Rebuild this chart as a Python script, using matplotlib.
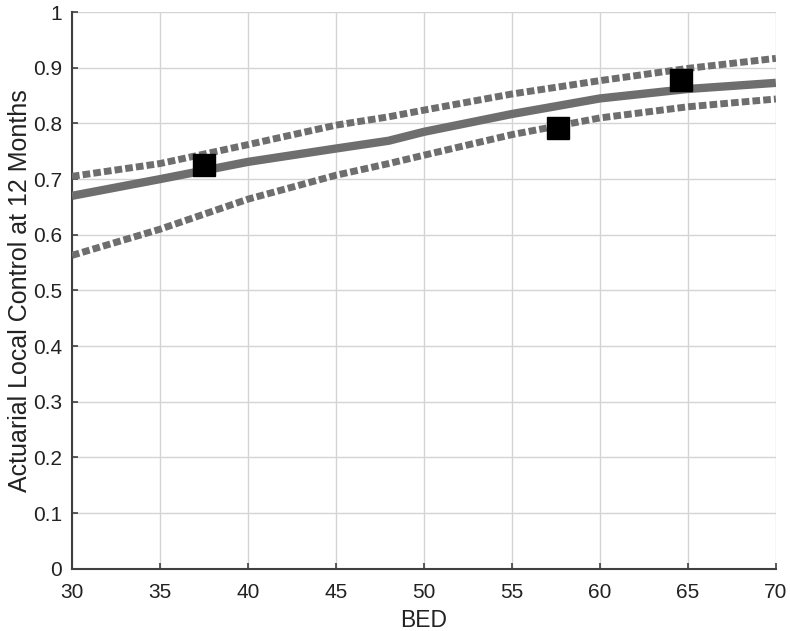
import matplotlib
matplotlib.use("Agg")
import matplotlib.pyplot as plt

plt.rcParams["font.family"] = ["Liberation Sans", "DejaVu Sans"]

# BED values on the fitted curve and confidence bands
bed = [30, 35, 40, 45, 48, 50, 55, 60, 65, 70]
fit = [0.670, 0.700, 0.731, 0.755, 0.769, 0.785, 0.817, 0.845, 0.862, 0.873]
upper = [0.705, 0.728, 0.762, 0.797, 0.812, 0.824, 0.853, 0.877, 0.899, 0.917]
lower = [0.563, 0.610, 0.664, 0.707, 0.728, 0.743, 0.780, 0.810, 0.830, 0.844]

# observed points
obs_bed = [37.5, 57.6, 64.6]
obs_lc = [0.725, 0.791, 0.878]

fig = plt.figure(figsize=(7.9, 6.31), dpi=100)
ax = fig.add_axes([0.0911, 0.0987, 0.891, 0.882])

gray = "#6e6e6e"
ax.plot(bed, fit, color=gray, lw=6.0, solid_capstyle="butt", zorder=3)
ax.plot(bed, upper, color=gray, lw=5.0, linestyle=(0, (1.1, 0.45)),
        dash_capstyle="butt", zorder=3)
ax.plot(bed, lower, color=gray, lw=5.0, linestyle=(0, (1.1, 0.45)),
        dash_capstyle="butt", zorder=3)
ax.plot(obs_bed, obs_lc, linestyle="none", marker="s", markersize=16,
        color="black", zorder=4)

ax.set_xlim(30, 70)
ax.set_ylim(0, 1)
ax.set_xticks(range(30, 71, 5))
ax.set_yticks([i / 10 for i in range(11)])
ax.set_yticklabels(["0", "0.1", "0.2", "0.3", "0.4", "0.5", "0.6", "0.7", "0.8", "0.9", "1"])
ax.grid(True, color="#d4d4d4", lw=1.0)
ax.set_axisbelow(True)

for s in ["top", "right"]:
    ax.spines[s].set_visible(False)
for s in ["left", "bottom"]:
    ax.spines[s].set_color("#404040")
    ax.spines[s].set_linewidth(1.5)

ax.tick_params(direction="in", length=4, width=1.2, colors="#404040",
               labelcolor="#222222", labelsize=15)
ax.tick_params(axis="x", pad=10)
ax.tick_params(axis="y", pad=7)
ax.set_xlabel("BED", fontsize=16.5, color="#222222", labelpad=5)
ax.set_ylabel("Actuarial Local Control at 12 Months", fontsize=18,
              color="#222222", labelpad=1)

fig.savefig("out.png", dpi=100)
